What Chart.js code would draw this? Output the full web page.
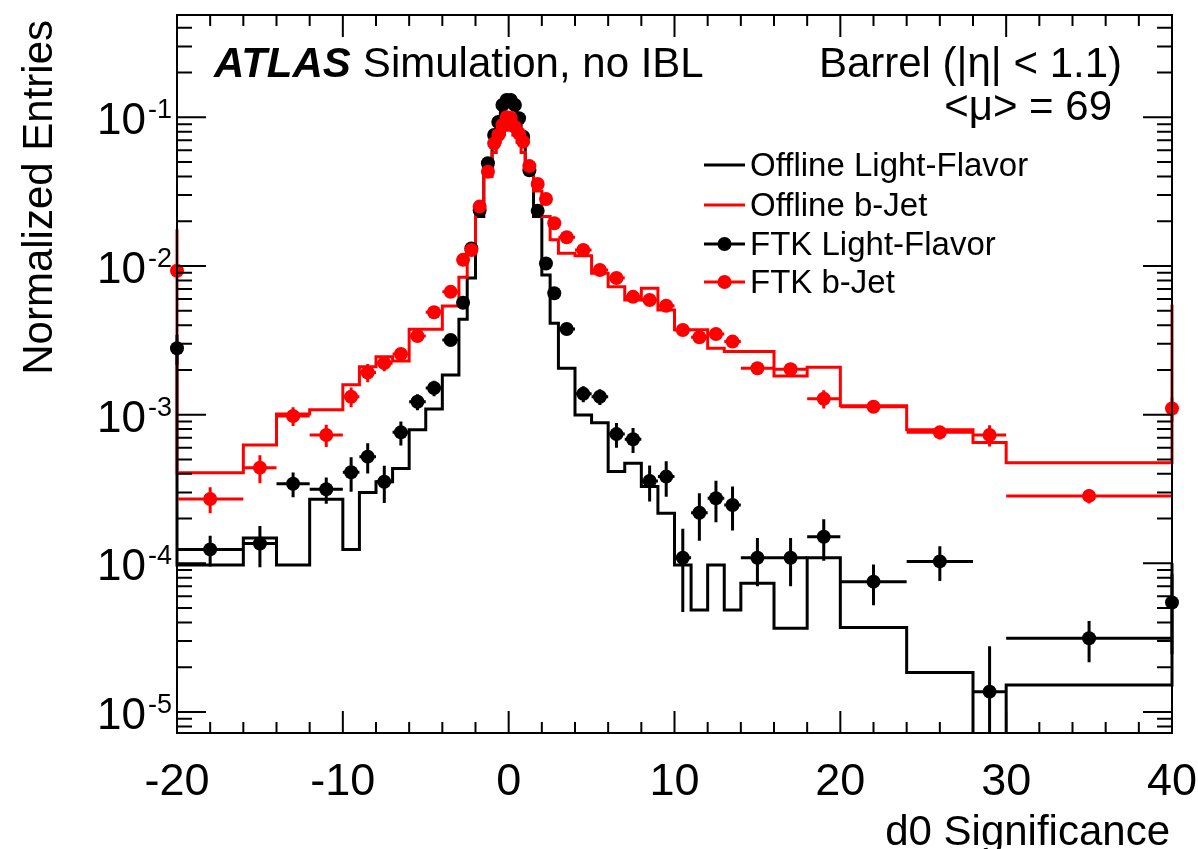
<!DOCTYPE html>
<html>
<head>
<meta charset="utf-8">
<script src="https://cdn.jsdelivr.net/npm/chart.js"></script>
<style>
  body { margin: 0; background: #fff; }
  #wrap { width: 1198px; height: 849px; }
</style>
</head>
<body>
<div id="wrap"><canvas id="d0Chart" width="1198" height="849"></canvas></div>
<script>
// variable binning of d0 significance
var binEdges = [-20, -16, -14, -12, -10, -9, -8, -7, -6, -5, -4, -3, -2.5, -2, -1.5, -1,
    -0.75, -0.5, -0.25, 0, 0.25, 0.5, 0.75, 1, 1.5, 2, 2.5, 3, 4, 5, 6, 7, 8, 9, 10,
    11, 12, 13, 14, 16, 18, 20, 24, 28, 30, 40];

var offlineLight = [9.75e-5, 1.48e-4, 9.75e-5, 2.70e-4, 1.24e-4, 2.99e-4, 3.54e-4, 4.35e-4,
    7.9e-4, 1.09e-3, 1.85e-3, 4.38e-3, 8.3e-3, 2.15e-2, 4.6e-2, 7.4e-2, 9.2e-2, 0.115,
    0.125, 0.125, 0.115, 9.5e-2, 7.2e-2, 4.5e-2, 2.15e-2, 8.7e-3, 4.12e-3, 2.05e-3,
    9.96e-4, 8.83e-4, 4.14e-4, 4.71e-4, 3.28e-4, 2.17e-4, 9.75e-5, 4.86e-5, 9.75e-5,
    4.86e-5, 7.34e-5, 3.66e-5, 1.09e-4, 3.7e-5, 1.84e-5, 0, 1.52e-5];

var offlineBJet = [4.07e-4, 6.25e-4, 1.01e-3, 1.08e-3, 1.59e-3, 2.10e-3, 2.45e-3, 2.30e-3,
    3.75e-3, 3.75e-3, 5.38e-3, 8.4e-3, 1.25e-2, 2.3e-2, 4.0e-2, 5.8e-2, 6.8e-2, 7.6e-2,
    8.2e-2, 8.2e-2, 7.6e-2, 6.8e-2, 5.8e-2, 4.4e-2, 3.2e-2, 2.15e-2, 1.5e-2, 1.22e-2,
    1.17e-2, 8.93e-3, 7.26e-3, 5.9e-3, 7.08e-3, 5.06e-3, 3.72e-3, 3.72e-3, 2.8e-3,
    2.66e-3, 2.66e-3, 1.82e-3, 2.08e-3, 1.15e-3, 7.9e-4, 6.49e-4, 4.75e-4];

var ftkLight = [1.24e-4, 1.36e-4, 3.43e-4, 3.15e-4, 4.10e-4, 5.22e-4, 3.54e-4, 7.6e-4,
    1.22e-3, 1.51e-3, 3.18e-3, 5.66e-3, 1.31e-2, 2.38e-2, 4.91e-2, 7.6e-2, 9.3e-2, 0.121,
    0.131, 0.131, 0.121, 9.85e-2, 7.4e-2, 4.4e-2, 2.35e-2, 1.04e-2, 6.55e-3, 3.77e-3,
    1.38e-3, 1.32e-3, 7.4e-4, 6.83e-4, 3.58e-4, 3.83e-4, 1.09e-4, 2.19e-4, 2.74e-4,
    2.47e-4, 1.09e-4, 1.09e-4, 1.51e-4, 7.53e-5, 1.03e-4, 1.37e-5, 3.13e-5];

var ftkLightErr = [2.9e-5, 4.2e-5, 6.5e-5, 6.3e-5, 1.07e-4, 1.2e-4, 9.9e-5, 1.4e-4,
    1.5e-4, 1.8e-4, 1.9e-4, 2.5e-4, 4e-4, 6e-4, 1e-3, 1.5e-3, 1.8e-3, 2.2e-3,
    2.4e-3, 2.4e-3, 2.2e-3, 1.9e-3, 1.5e-3, 1e-3, 6e-4, 4e-4, 3e-4, 2.3e-4,
    1.7e-4, 1.6e-4, 1.4e-4, 1.3e-4, 9.7e-5, 1.03e-4, 6.2e-5, 7.7e-5, 8.5e-5,
    8.1e-5, 3.9e-5, 3.9e-5, 4.7e-5, 2.3e-5, 2.7e-5, 1.4e-5, 9.7e-6];

var ftkBJet = [2.71e-4, 4.4e-4, 9.8e-4, 7.3e-4, 1.32e-3, 1.92e-3, 2.22e-3, 2.56e-3,
    3.38e-3, 4.89e-3, 6.7e-3, 1.10e-2, 1.28e-2, 2.51e-2, 4.31e-2, 6.68e-2, 7.6e-2, 8.87e-2,
    0.100, 0.099, 8.65e-2, 7.8e-2, 6.86e-2, 4.7e-2, 3.56e-2, 2.82e-2, 1.94e-2, 1.56e-2,
    1.28e-2, 9.4e-3, 8.3e-3, 6.2e-3, 5.9e-3, 5.4e-3, 3.71e-3, 3.32e-3, 3.49e-3,
    3.1e-3, 2.05e-3, 2.02e-3, 1.28e-3, 1.13e-3, 7.6e-4, 7.3e-4, 2.84e-4];

var ftkBJetErr = [5.4e-5, 9.4e-5, 1.4e-4, 1.25e-4, 2e-4, 2.7e-4, 2.6e-4, 2.2e-4,
    2.4e-4, 3e-4, 3.5e-4, 4.5e-4, 5e-4, 7e-4, 1e-3, 1.3e-3, 1.4e-3, 1.5e-3,
    1.6e-3, 1.6e-3, 1.5e-3, 1.4e-3, 1.3e-3, 1e-3, 8e-4, 7e-4, 5e-4, 4.5e-4,
    4e-4, 3.5e-4, 3.3e-4, 2.8e-4, 2.7e-4, 2.6e-4, 2.2e-4, 2.1e-4, 2.2e-4,
    2.1e-4, 1.5e-4, 1.5e-4, 1.8e-4, 1.0e-4, 8e-5, 1.2e-4, 3.1e-5];

// [underflow, overflow] entries, drawn at the axis edges
var offlineLightFlow = [2.6e-3, 1.0e-4];
var offlineBJetFlow = [1.77e-2, 5.5e-3];
var ftkLightFlow = [2.8e-3, 5.45e-5];
var ftkLightFlowErr = [6.4e-4, 3.0e-5];
var ftkBJetFlow = [9.3e-3, 1.1e-3];
var ftkBJetFlowErr = [4e-4, 2e-4];

var xTickValues = [-20, -10, 0, 10, 20, 30, 40];
var yTickValues = [1e-5, 1e-4, 1e-3, 1e-2, 1e-1];
var yTickExponents = ['-5', '-4', '-3', '-2', '-1'];

var FONT = '"Liberation Sans", Arial, Helvetica, sans-serif';

// empty bins fall below the log axis, so give them a floor well under it
function logSafe(v) {
    return v > 0 ? v : 1e-9;
}

function stepPoints(vals, flow) {
    var last = binEdges.length - 1;
    var pts = [{x: binEdges[0], y: flow[0]}];
    for (var i = 0; i < vals.length; i++) {
        pts.push({x: binEdges[i], y: logSafe(vals[i])});
        pts.push({x: binEdges[i + 1], y: logSafe(vals[i])});
    }
    pts.push({x: binEdges[last], y: flow[1]});
    return pts;
}

function markerPoints(vals, errs, flow, flowErr) {
    var pts = [];
    var last = binEdges.length - 1;
    pts.push({x: binEdges[0], y: flow[0], xlo: binEdges[0], xhi: binEdges[0], err: flowErr[0]});
    for (var i = 0; i < vals.length; i++) {
        pts.push({
            x: (binEdges[i] + binEdges[i + 1]) / 2, y: vals[i],
            xlo: binEdges[i], xhi: binEdges[i + 1], err: errs[i]
        });
    }
    pts.push({x: binEdges[last], y: flow[1], xlo: binEdges[last], xhi: binEdges[last], err: flowErr[1]});
    return pts;
}

// error bars, drawn just before the markers of each FTK dataset
var errorBarPlugin = {
    id: 'errorBars',
    beforeDatasetDraw: function (chart, args) {
        var ds = chart.data.datasets[args.index];
        if (!ds.errorBars) return;
        var ctx = chart.ctx, area = chart.chartArea;
        var xs = chart.scales.x, ys = chart.scales.y;
        ctx.save();
        ctx.beginPath();
        ctx.rect(area.left - 8, area.top, area.right - area.left + 16, area.bottom - area.top);
        ctx.clip();
        ctx.strokeStyle = ds.borderColor;
        ctx.lineWidth = 3;
        ds.data.forEach(function (p) {
            var px = xs.getPixelForValue(p.x), py = ys.getPixelForValue(p.y);
            ctx.beginPath();
            if (p.xhi > p.xlo) {
                ctx.moveTo(xs.getPixelForValue(p.xlo), py);
                ctx.lineTo(xs.getPixelForValue(p.xhi), py);
            }
            var lo = p.y - p.err;
            var pyLo = lo > 0 ? ys.getPixelForValue(lo) : area.bottom + 5;
            ctx.moveTo(px, pyLo);
            ctx.lineTo(px, ys.getPixelForValue(p.y + p.err));
            ctx.stroke();
        });
        ctx.restore();
    }
};

// ROOT style frame, inner ticks, labels, legend and captions
var framePlugin = {
    id: 'rootFrame',
    afterDraw: function (chart) {
        var ctx = chart.ctx, a = chart.chartArea;
        var xs = chart.scales.x, ys = chart.scales.y;
        ctx.save();
        ctx.strokeStyle = '#000';
        ctx.fillStyle = '#000';
        ctx.lineWidth = 2;
        ctx.strokeRect(a.left, a.top, a.right - a.left, a.bottom - a.top);

        ctx.beginPath();
        for (var v = -20; v <= 40; v += 2) {
            var px = xs.getPixelForValue(v);
            var len = (v % 10 === 0) ? 22 : 11;
            ctx.moveTo(px, a.bottom); ctx.lineTo(px, a.bottom - len);
            ctx.moveTo(px, a.top); ctx.lineTo(px, a.top + len);
        }
        for (var k = -6; k <= 0; k++) {
            for (var m = 1; m <= 9; m++) {
                var val = m * Math.pow(10, k);
                if (val < ys.min || val > ys.max) continue;
                var py = ys.getPixelForValue(val);
                var l = (m === 1) ? 29 : 15;
                ctx.moveTo(a.left, py); ctx.lineTo(a.left + l, py);
                ctx.moveTo(a.right, py); ctx.lineTo(a.right - l, py);
            }
        }
        ctx.stroke();

        // x tick labels
        ctx.font = '45px ' + FONT;
        ctx.textAlign = 'center';
        ctx.textBaseline = 'alphabetic';
        xTickValues.forEach(function (v) {
            ctx.fillText(String(v), xs.getPixelForValue(v), a.bottom + 62);
        });

        // y tick labels as 10^n
        yTickValues.forEach(function (v, i) {
            var py = ys.getPixelForValue(v);
            ctx.textAlign = 'right';
            ctx.font = '27px ' + FONT;
            var ew = ctx.measureText(yTickExponents[i]).width;
            ctx.fillText(yTickExponents[i], a.left - 5, py + 1);
            ctx.font = '44px ' + FONT;
            ctx.fillText('10', a.left - 7 - ew, py + 17);
        });

        // axis titles
        ctx.font = '42px ' + FONT;
        ctx.textAlign = 'right';
        ctx.fillText('d0 Significance', 1170, 845);
        ctx.save();
        ctx.translate(52, 20);
        ctx.rotate(-Math.PI / 2);
        ctx.fillText('Normalized Entries', 0, 0);
        ctx.restore();

        // captions
        ctx.textAlign = 'left';
        ctx.font = 'italic bold 42px ' + FONT;
        ctx.fillText('ATLAS', 214, 77);
        var aw = ctx.measureText('ATLAS').width;
        ctx.font = '42px ' + FONT;
        ctx.fillText('Simulation, no IBL', 214 + aw + 12, 77);
        ctx.textAlign = 'right';
        ctx.fillText('Barrel (|\u03b7| < 1.1)', 1122, 77);
        ctx.fillText('<\u03bc> = 69', 1112, 120);

        // legend
        var rows = [165, 205, 244, 282];
        ctx.font = '33px ' + FONT;
        ctx.textAlign = 'left';
        ctx.textBaseline = 'middle';
        chart.data.datasets.forEach(function (ds, i) {
            var y = rows[i];
            ctx.strokeStyle = ds.borderColor;
            ctx.lineWidth = 3;
            ctx.beginPath();
            ctx.moveTo(704, y); ctx.lineTo(745, y);
            ctx.stroke();
            if (ds.pointRadius > 0) {
                ctx.fillStyle = ds.borderColor;
                ctx.beginPath();
                ctx.arc(724.5, y, ds.pointRadius, 0, Math.PI * 2);
                ctx.fill();
            }
            ctx.fillStyle = '#000';
            ctx.fillText(ds.label, 750, y + 2);
        });
        ctx.restore();
    }
};

document.addEventListener('DOMContentLoaded', function () {
    var ctx = document.getElementById('d0Chart').getContext('2d');
    var histClip = {left: 6, right: 6, top: 0, bottom: 0};
    var pointClip = {left: 10, right: 10, top: 0, bottom: 0};
    var d0Chart = new Chart(ctx, {
        type: 'scatter',
        data: {
            datasets: [{
                label: 'Offline Light-Flavor',
                data: stepPoints(offlineLight, offlineLightFlow),
                showLine: true,
                borderColor: '#000000',
                borderWidth: 3,
                pointRadius: 0,
                fill: false,
                order: 4,
                clip: histClip
            }, {
                label: 'Offline b-Jet',
                data: stepPoints(offlineBJet, offlineBJetFlow),
                showLine: true,
                borderColor: '#ff0000',
                borderWidth: 3,
                pointRadius: 0,
                fill: false,
                order: 3,
                clip: histClip
            }, {
                label: 'FTK Light-Flavor',
                data: markerPoints(ftkLight, ftkLightErr, ftkLightFlow, ftkLightFlowErr),
                errorBars: true,
                borderColor: '#000000',
                backgroundColor: '#000000',
                pointRadius: 7,
                pointBorderWidth: 0,
                order: 2,
                clip: pointClip
            }, {
                label: 'FTK b-Jet',
                data: markerPoints(ftkBJet, ftkBJetErr, ftkBJetFlow, ftkBJetFlowErr),
                errorBars: true,
                borderColor: '#ff0000',
                backgroundColor: '#ff0000',
                pointRadius: 7,
                pointBorderWidth: 0,
                order: 1,
                clip: pointClip
            }]
        },
        options: {
            responsive: false,
            animation: false,
            layout: {padding: {left: 177, right: 26, top: 15, bottom: 116}},
            scales: {
                x: {type: 'linear', min: -20, max: 40, display: false},
                y: {type: 'logarithmic', min: 7.22e-6, max: 0.488, display: false}
            },
            plugins: {
                legend: {display: false},
                tooltip: {enabled: false}
            }
        },
        plugins: [errorBarPlugin, framePlugin]
    });
});
</script>
</body>
</html>
